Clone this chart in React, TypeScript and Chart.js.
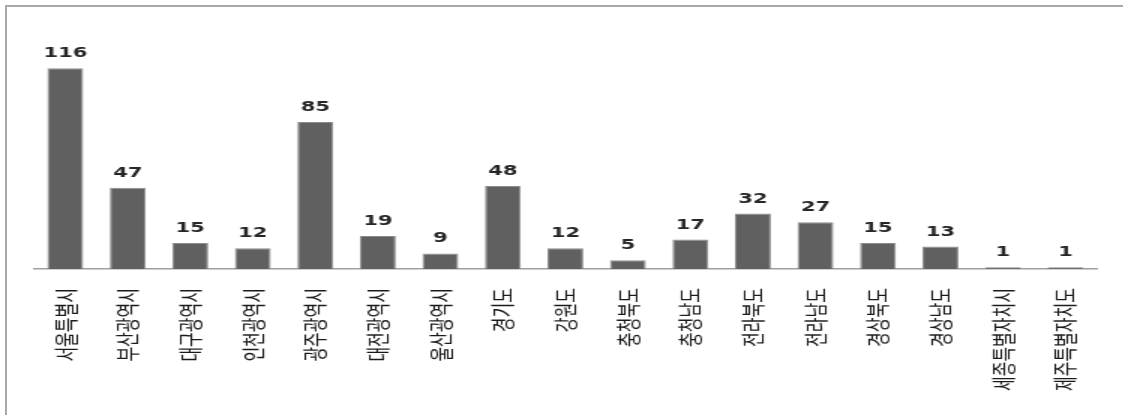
import React, { useEffect, useRef } from "react";
import { Chart, registerables } from "chart.js";

Chart.register(...registerables);

const categories: string[] = [
  "서울특별시", "부산광역시", "대구광역시", "인천광역시", "광주광역시", "대전광역시", "울산광역시",
  "경기도", "강원도", "충청북도", "충청남도", "전라북도", "전라남도", "경상북도", "경상남도",
  "세종특별자치시", "제주특별자치도",
];
const counts: number[] = [116, 47, 15, 12, 85, 19, 9, 48, 12, 5, 17, 32, 27, 15, 13, 1, 1];

const SX = 1.5;
const CW = Math.round(1123 / SX);
const CH = 415;

const valueLabels = {
  id: "valueLabels",
  afterDatasetsDraw(chart: any) {
    const ctx = chart.ctx;
    const meta = chart.getDatasetMeta(0);
    ctx.save();
    ctx.font = "bold 14px 'DejaVu Sans', Verdana, sans-serif";
    ctx.fillStyle = "#262626";
    ctx.textAlign = "center";
    ctx.textBaseline = "alphabetic";
    meta.data.forEach((bar: any, i: number) => {
      ctx.fillText(String(chart.data.datasets[0].data[i]), bar.x, bar.y - 11);
    });
    ctx.restore();
  },
};

export default function App() {
  const ref = useRef<HTMLCanvasElement | null>(null);
  useEffect(() => {
    if (!ref.current) return;
    const chart = new Chart(ref.current, {
      type: "bar",
      data: {
        labels: categories,
        datasets: [
          {
            data: counts,
            backgroundColor: "#606060",
            borderColor: "#8c8c8c",
            borderWidth: 1,
            barPercentage: 0.574,
            categoryPercentage: 1,
          },
        ],
      },
      options: {
        responsive: false,
        devicePixelRatio: 1,
        animation: false,
        layout: { padding: { left: 34 / SX, right: CW - 1100 / SX, top: 44, bottom: 0 } },
        plugins: { legend: { display: false }, tooltip: { enabled: false } },
        scales: {
          x: {
            grid: { display: false, drawTicks: false },
            border: { display: true, color: "#a0a0a0", width: 1.5 },
            ticks: {
              autoSkip: false,
              minRotation: 90,
              maxRotation: 90,
              padding: 19,
              color: "#1a1a1a",
              font: { family: "'Noto Sans CJK KR', sans-serif", size: 16 },
            },
            afterFit: (scale: any) => {
              scale.height = 146;
            },
          },
          y: {
            display: false,
            min: 0,
            max: 130,
          },
        },
      },
      plugins: [valueLabels],
    });
    return () => chart.destroy();
  }, []);

  return (
    <div
      style={{
        position: "fixed",
        left: 0,
        top: 0,
        width: 1123,
        height: 415,
        overflow: "hidden",
        background: "#ffffff",
      }}
    >
      <div
        style={{
          position: "absolute",
          left: 5,
          top: 5,
          width: 1200,
          height: 500,
          border: "2px solid #a8a8a8",
        }}
      />
      <div
        style={{
          position: "absolute",
          left: 0,
          top: 0,
          width: CW,
          height: CH,
          transform: `scaleX(${SX})`,
          transformOrigin: "0 0",
        }}
      >
        <canvas ref={ref} width={CW} height={CH} style={{ display: "block" }} />
      </div>
    </div>
  );
}
